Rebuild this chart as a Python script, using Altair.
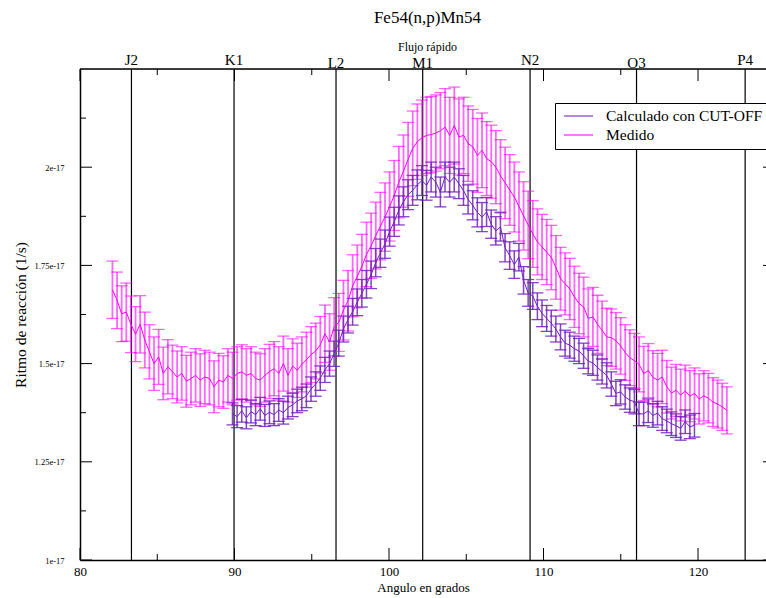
import altair as alt
import numpy as np
import pandas as pd

# ---------------- data (rates in units of 1e-17 1/s) ----------------
medido_name = "Medido"
calc_name = "Calculado con CUT-OFF"

medido_start, medido_step = 82.1, 0.299
medido_val = [
    1.688, 1.661, 1.627, 1.631, 1.600, 1.575, 1.600, 1.560, 1.530, 1.500,
    1.517, 1.475, 1.492, 1.479, 1.466, 1.475, 1.455, 1.462, 1.470, 1.458,
    1.466, 1.462, 1.441, 1.458, 1.453, 1.470, 1.462, 1.475, 1.479, 1.470,
    1.475, 1.462, 1.458, 1.470, 1.480, 1.487, 1.475, 1.500, 1.470, 1.494,
    1.483, 1.498, 1.510, 1.523, 1.532, 1.548, 1.576, 1.555, 1.594, 1.605,
    1.636, 1.660, 1.698, 1.722, 1.748, 1.778, 1.800, 1.826, 1.850, 1.873,
    1.900, 1.928, 1.962, 1.990, 2.020, 2.048, 2.065, 2.075, 2.081, 2.083,
    2.087, 2.093, 2.102, 2.081, 2.106, 2.077, 2.081, 2.060, 2.052, 2.030,
    2.043, 2.022, 2.014, 2.000, 1.978, 1.960, 1.942, 1.924, 1.900, 1.876,
    1.853, 1.830, 1.810, 1.797, 1.784, 1.770, 1.745, 1.716, 1.703, 1.690,
    1.670, 1.653, 1.644, 1.615, 1.619, 1.600, 1.585, 1.568, 1.566, 1.558,
    1.545, 1.528, 1.515, 1.507, 1.498, 1.475, 1.482, 1.465, 1.458, 1.466,
    1.441, 1.425, 1.432, 1.420, 1.430, 1.417, 1.424, 1.410, 1.418, 1.412,
    1.402, 1.397, 1.390, 1.381,
]
medido_err = [
    0.073, 0.072, 0.071, 0.074, 0.072, 0.070, 0.073, 0.071, 0.069, 0.068,
    0.070, 0.067, 0.069, 0.068, 0.066, 0.068, 0.066, 0.067, 0.068, 0.067,
    0.068, 0.067, 0.066, 0.068, 0.067, 0.068, 0.067, 0.068, 0.069, 0.068,
    0.068, 0.067, 0.067, 0.068, 0.069, 0.069, 0.068, 0.070, 0.068, 0.069,
    0.069, 0.070, 0.070, 0.071, 0.071, 0.072, 0.073, 0.072, 0.074, 0.074,
    0.076, 0.077, 0.079, 0.080, 0.081, 0.082, 0.083, 0.085, 0.086, 0.087,
    0.088, 0.089, 0.091, 0.092, 0.094, 0.095, 0.096, 0.096, 0.097, 0.097,
    0.097, 0.097, 0.098, 0.097, 0.098, 0.097, 0.097, 0.096, 0.095, 0.094,
    0.095, 0.094, 0.093, 0.093, 0.092, 0.091, 0.090, 0.089, 0.088, 0.087,
    0.086, 0.085, 0.084, 0.083, 0.083, 0.082, 0.081, 0.080, 0.079, 0.078,
    0.078, 0.077, 0.076, 0.075, 0.075, 0.074, 0.074, 0.073, 0.073, 0.072,
    0.072, 0.071, 0.071, 0.070, 0.070, 0.069, 0.069, 0.068, 0.068, 0.068,
    0.067, 0.066, 0.066, 0.066, 0.066, 0.065, 0.065, 0.064, 0.064, 0.063,
    0.062, 0.061, 0.060, 0.060,
]

calc_start, calc_step = 89.87, 0.299
calc_val = [
    1.372, 1.365, 1.380, 1.362, 1.378, 1.370, 1.385, 1.368, 1.376, 1.370,
    1.382, 1.375, 1.388, 1.395, 1.405, 1.410, 1.418, 1.435, 1.448, 1.463,
    1.484, 1.500, 1.525, 1.552, 1.588, 1.612, 1.632, 1.656, 1.679, 1.702,
    1.726, 1.757, 1.781, 1.804, 1.836, 1.861, 1.890, 1.912, 1.930, 1.941,
    1.955, 1.966, 1.954, 1.975, 1.962, 1.937, 1.975, 1.962, 1.975, 1.958,
    1.941, 1.918, 1.903, 1.885, 1.873, 1.886, 1.855, 1.838, 1.848, 1.795,
    1.775, 1.752, 1.771, 1.712, 1.680, 1.672, 1.646, 1.628, 1.615, 1.603,
    1.588, 1.568, 1.552, 1.547, 1.538, 1.532, 1.520, 1.506, 1.502, 1.490,
    1.480, 1.470, 1.448, 1.424, 1.428, 1.415, 1.407, 1.403, 1.372, 1.372,
    1.380, 1.368, 1.374, 1.360, 1.354, 1.347, 1.342, 1.335, 1.352, 1.339,
    1.343,
]
calc_err = [
    0.028, 0.028, 0.029, 0.028, 0.029, 0.028, 0.029, 0.028, 0.029, 0.028,
    0.029, 0.029, 0.029, 0.030, 0.030, 0.030, 0.030, 0.031, 0.031, 0.031,
    0.032, 0.032, 0.032, 0.033, 0.033, 0.034, 0.034, 0.034, 0.035, 0.035,
    0.035, 0.036, 0.036, 0.036, 0.037, 0.037, 0.037, 0.038, 0.038, 0.038,
    0.038, 0.038, 0.038, 0.038, 0.038, 0.038, 0.038, 0.038, 0.038, 0.038,
    0.038, 0.037, 0.037, 0.037, 0.037, 0.037, 0.036, 0.036, 0.036, 0.036,
    0.035, 0.035, 0.035, 0.035, 0.034, 0.034, 0.034, 0.034, 0.033, 0.033,
    0.033, 0.033, 0.033, 0.033, 0.032, 0.032, 0.032, 0.032, 0.032, 0.032,
    0.032, 0.032, 0.031, 0.031, 0.031, 0.031, 0.031, 0.031, 0.030, 0.030,
    0.030, 0.030, 0.030, 0.030, 0.030, 0.030, 0.030, 0.030, 0.030, 0.030,
    0.030,
]

marker_names = ["J2", "K1", "L2", "M1", "N2", "O3", "P4"]
marker_angle = [83.33, 89.97, 96.57, 102.18, 109.13, 116.02, 123.05]
marker_low = ["L2", "M1", "O3"]  # labels printed slightly lower in the original

x_major = [80, 90, 100, 110, 120]
x_minor = [85, 95, 105, 115]
y_major = [1.0, 1.25, 1.5, 1.75, 2.0]
y_minor = [1.125, 1.375, 1.625, 1.875, 2.125]

title_text = "Fe54(n,p)Mn54"
subtitle_text = "Flujo rápido"

# ---------------- style ----------------
SERIF = "Liberation Serif"
PURPLE = "#7221BC"
MAGENTA = "#FF00FF"
W, H = 686, 491
XDOM = [80, 124.4]
YDOM = [1.0, 2.25]
FULL_W = 695  # plot width in the original (right part is cropped)


def build(name, start, step, vals, errs):
    n = min(len(vals), len(errs))
    ang = np.round(start + step * np.arange(n), 3)
    v = np.array(vals[:n])
    e = np.array(errs[:n])
    return pd.DataFrame({"angle": ang, "rate": v, "lo": v - e, "hi": v + e, "series": name})


dm = build(medido_name, medido_start, medido_step, medido_val, medido_err)
dc = build(calc_name, calc_start, calc_step, calc_val, calc_err)
dall = pd.concat([dc, dm], ignore_index=True)

xs = alt.Scale(domain=XDOM, nice=False, zero=False)
ys = alt.Scale(domain=YDOM, nice=False, zero=False)

x_axis = alt.Axis(
    values=x_major, format="d", ticks=False, grid=False, labelFlush=False,
    labelFont=SERIF, labelFontSize=13, labelPadding=5, labelColor="black",
    title="Angulo en grados", titleFont=SERIF, titleFontSize=13,
    titleFontWeight="normal", titlePadding=3, titleColor="black",
    domainColor="black", domainWidth=1.5,
)
y_axis = alt.Axis(
    values=y_major, labelExpr="datum.value + 'e-17'", ticks=False, grid=False,
    labelFlush=False, labelFont=SERIF, labelFontSize=8.5, labelPadding=16,
    labelColor="black",
    title="Ritmo de reacción (1/s)", titleFont=SERIF, titleFontSize=15.5,
    titleFontWeight="normal", titlePadding=6, titleColor="black",
    domainColor="black", domainWidth=1.5,
)


def X(field):
    return alt.X(field, scale=xs, axis=x_axis, title="Angulo en grados")


def Y(field):
    return alt.Y(field, scale=ys, axis=y_axis, title="Ritmo de reacción (1/s)")


def bars(df, color, width, opacity):
    base = alt.Chart(df)
    rules = base.mark_rule(color=color, strokeWidth=width, opacity=opacity).encode(
        x=X("angle:Q"), y=Y("lo:Q"), y2="hi:Q",
    )
    caps = base.transform_fold(["lo", "hi"], as_=["end", "yv"]).mark_tick(
        color=color, orient="horizontal", size=12, thickness=1.3, opacity=opacity
    ).encode(x=X("angle:Q"), y=Y("yv:Q"))
    return rules + caps


markers_df = pd.DataFrame({"angle": marker_angle, "name": marker_names})
markers_df["low"] = markers_df["name"].isin(marker_low)

vlines = alt.Chart(markers_df).mark_rule(color="black", strokeWidth=1.2).encode(x=X("angle:Q"))

lines = alt.Chart(dall).mark_line(strokeWidth=1).encode(
    x=X("angle:Q"),
    y=Y("rate:Q"),
    color=alt.Color(
        "series:N",
        scale=alt.Scale(domain=[calc_name, medido_name], range=[PURPLE, MAGENTA]),
        legend=alt.Legend(
            title=None, orient="none", legendX=475, legendY=34,
            symbolType="stroke", symbolSize=841, symbolStrokeWidth=1.5,
            symbolOpacity=0.7, symbolOffset=3,
            labelFont=SERIF, labelFontSize=15.5, labelColor="black", labelOffset=12,
            labelLimit=400, padding=5, rowPadding=2, clipHeight=16,
            strokeColor="black", fillColor="white",
        ),
    ),
    detail="series:N",
)

lab_hi = alt.Chart(markers_df).transform_filter("!datum.low").mark_text(
    font=SERIF, fontSize=15, baseline="alphabetic", align="center", color="black"
).encode(x=X("angle:Q"), y=alt.value(-4), text="name:N")
lab_lo = alt.Chart(markers_df).transform_filter("datum.low").mark_text(
    font=SERIF, fontSize=15, baseline="alphabetic", align="center", color="black"
).encode(x=X("angle:Q"), y=alt.value(-1), text="name:N")

title_mark = alt.Chart(pd.DataFrame({"t": [title_text]})).mark_text(
    font=SERIF, fontSize=17, baseline="alphabetic", align="center", color="black"
).encode(x=alt.value(FULL_W / 2), y=alt.value(-46), text="t:N")
sub_mark = alt.Chart(pd.DataFrame({"t": [subtitle_text]})).mark_text(
    font=SERIF, fontSize=12, baseline="alphabetic", align="center", color="black"
).encode(x=alt.value(FULL_W / 2), y=alt.value(-18), text="t:N")

# frame top line and inward ticks
top_line = alt.Chart(pd.DataFrame({"a": [0]})).mark_rule(color="black", strokeWidth=1.5).encode(
    x=alt.value(0), x2=alt.value(W), y=alt.value(0)
)


def xticks(vals, length):
    d = alt.Chart(pd.DataFrame({"t": vals}))
    bot = d.mark_rule(color="black", strokeWidth=1).encode(
        x=X("t:Q"), y=alt.value(H), y2=alt.value(H - length))
    top = d.mark_rule(color="black", strokeWidth=1).encode(
        x=X("t:Q"), y=alt.value(0), y2=alt.value(length))
    return bot + top


def yticks(vals, length, right_len):
    d = alt.Chart(pd.DataFrame({"t": vals}))
    left = d.mark_rule(color="black", strokeWidth=1).encode(
        y=Y("t:Q"), x=alt.value(0), x2=alt.value(length))
    layers = [left]
    if right_len > 0:
        layers.append(d.mark_rule(color="black", strokeWidth=1).encode(
            y=Y("t:Q"), x=alt.value(W), x2=alt.value(W - right_len)))
    return alt.layer(*layers)


chart = alt.layer(
    vlines,
    bars(dm, MAGENTA, 1.8, 0.6),
    bars(dc, PURPLE, 1.5, 0.85),
    lines,
    xticks(x_major, 12),
    xticks(x_minor, 6),
    yticks(y_major, 12, 3),
    yticks(y_minor, 6, 0),
    top_line,
    lab_hi,
    lab_lo,
    title_mark,
    sub_mark,
).properties(
    width=W, height=H,
    autosize=alt.AutoSizeParams(type="none"),
    padding={"left": 80, "top": 69, "right": 0, "bottom": 38},
).configure_view(stroke=None).configure_axis(
    labelFont=SERIF, titleFont=SERIF
).configure(background="white")

chart.save("out.html", embed_options={"renderer": "svg", "actions": False})
